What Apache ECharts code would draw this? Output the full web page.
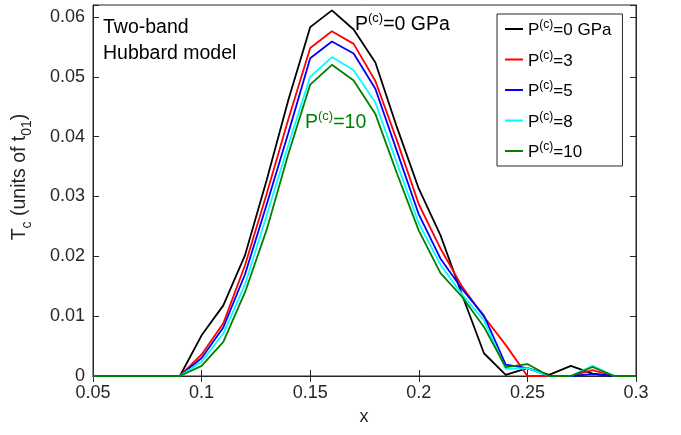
<!DOCTYPE html>
<html><head><meta charset="utf-8">
<script src="https://cdn.jsdelivr.net/npm/echarts@6/dist/echarts.min.js"></script>
<style>html,body{margin:0;padding:0;background:#fff}#c{width:681px;height:435px}</style>
</head><body><div id="c"></div>
<script>
const xValues = [0.05,0.06,0.07,0.08,0.09,0.10,0.11,0.12,0.13,0.14,0.15,0.16,0.17,0.18,0.19,0.20,0.21,0.22,0.23,0.24,0.25,0.26,0.27,0.28,0.29,0.30];
const tcP0  = [0,0,0,0,0,0.0068,0.0118,0.0202,0.0328,0.0462,0.0583,0.0611,0.0579,0.0524,0.0415,0.0313,0.0235,0.0135,0.0038,0.0002,0.0013,0.0002,0.0017,0.0004,0,0];
const tcP3  = [0,0,0,0,0,0.0036,0.0088,0.0185,0.0305,0.0430,0.0548,0.0576,0.0555,0.0493,0.0393,0.0287,0.0213,0.0149,0.0099,0.0052,0,0,0,0.0010,0,0];
const tcP5  = [0,0,0,0,0,0.0030,0.0081,0.0170,0.0287,0.0407,0.0531,0.0559,0.0539,0.0480,0.0375,0.0270,0.0196,0.0145,0.0101,0.0019,0.0013,0,0,0.0003,0,0];
const tcP8  = [0,0,0,0,0,0.0024,0.0071,0.0153,0.0269,0.0387,0.0500,0.0533,0.0511,0.0457,0.0355,0.0255,0.0186,0.0136,0.0093,0.0012,0.0013,0,0,0.0017,0,0];
const tcP10 = [0,0,0,0,0,0.0017,0.0057,0.0140,0.0245,0.0372,0.0487,0.0520,0.0494,0.0438,0.0338,0.0243,0.0172,0.0132,0.0082,0.0015,0.0020,0,0,0.0015,0,0];
const xTickValues = [0.05,0.1,0.15,0.2,0.25,0.3];
const yTickValues = [0,0.01,0.02,0.03,0.04,0.05,0.06];
const seriesNames = ['P0','P3','P5','P8','P10'];
const legendTexts = ['=0 GPa','=3','=5','=8','=10'];

const chart = echarts.init(document.getElementById('c'), null, {renderer:'canvas'});
const FONT = 'Liberation Sans, Arial, Helvetica, sans-serif';
const AX = '#262626';
const colorOf = {P0:'#000000',P3:'#ff0000',P5:'#0000ff',P8:'#00ffff',P10:'#008000'};
const dataOf = {P0:tcP0,P3:tcP3,P5:tcP5,P8:tcP8,P10:tcP10};

function isTick(v, list){ return list.some(t => Math.abs(t - v) < 1e-9); }

const supRich = {
  n: {fontSize:17, fontFamily:FONT, color:'#000', lineHeight:20, verticalAlign:'bottom'},
  s: {fontSize:12, fontFamily:FONT, color:'#000', lineHeight:13, verticalAlign:'top'}
};

function annRich(color, size){
  return {
    n: {fontSize:size, fontFamily:FONT, fill:color, lineHeight:size+3, verticalAlign:'bottom'},
    s: {fontSize:13, fontFamily:FONT, fill:color, lineHeight:14, verticalAlign:'top'}
  };
}

const baseX = {
  type:'value', min:0.05, max:0.3, interval:0.05,
  axisLine:{show:true, lineStyle:{color:AX, width:1}},
  axisTick:{show:true, inside:true, length:6, lineStyle:{color:AX}},
  splitLine:{show:false}
};
const baseY = {
  type:'value', min:0, max:0.062, interval:0.01,
  axisLine:{show:true, lineStyle:{color:AX, width:1}},
  axisTick:{show:true, inside:true, length:6, lineStyle:{color:AX}},
  splitLine:{show:false}
};

const option = {
  animation:false,
  backgroundColor:'#fff',
  grid:{left:93, right:45, top:5, bottom:59, show:true, borderColor:AX, borderWidth:1, backgroundColor:'transparent'},
  xAxis:[
    Object.assign({}, baseX, {position:'bottom',
      axisLabel:{show:true, fontSize:18, fontFamily:FONT, color:AX, margin:8,
        formatter:v => isTick(v, xTickValues) ? String(+v.toFixed(2)) : ''}}),
    Object.assign({}, baseX, {position:'top', axisLabel:{show:false}})
  ],
  yAxis:[
    Object.assign({}, baseY, {position:'left', showMaxLabel:false,
      axisLabel:{show:true, fontSize:18, fontFamily:FONT, color:AX, margin:8,
        formatter:v => isTick(v, yTickValues) ? (v === 0 ? '0' : v.toFixed(2)) : ''}}),
    Object.assign({}, baseY, {position:'right', axisLabel:{show:false}})
  ],
  legend:{
    orient:'vertical', left:497, top:14,
    padding:[5,11,5,8], itemGap:10.5, itemWidth:18, itemHeight:2, icon:'rect',
    borderColor:AX, borderWidth:1, backgroundColor:'#fff',
    data:seriesNames,
    formatter:name => '{n|P}{s|(c)}{n|' + legendTexts[seriesNames.indexOf(name)] + '}',
    textStyle:{fontSize:17, fontFamily:FONT, color:'#000', rich:supRich}
  },
  series:seriesNames.map(name => ({
    name:name, type:'line', xAxisIndex:0, yAxisIndex:0,
    data:xValues.map((x,i) => [x, dataOf[name][i]]),
    showSymbol:false, symbol:'none',
    lineStyle:{color:colorOf[name], width:1.8},
    itemStyle:{color:colorOf[name]}
  })),
  graphic:[
    {type:'text', x:103, y:28, style:{text:'Two-band', fontSize:19.5, fontFamily:FONT, fill:'#000', verticalAlign:'middle'}},
    {type:'text', x:103, y:53.5, style:{text:'Hubbard model', fontSize:19.5, fontFamily:FONT, fill:'#000', verticalAlign:'middle'}},
    {type:'text', x:355, y:23, style:{text:'{n|P}{s|(c)}{n|=0 GPa}', rich:annRich('#000',19.5), verticalAlign:'middle'}},
    {type:'text', x:305, y:121, style:{text:'{n|P}{s|(c)}{n|=10}', rich:annRich('#008000',19.5), verticalAlign:'middle'}},
    {type:'text', x:364, y:417, style:{text:'x', fontSize:18, fontFamily:FONT, fill:AX, align:'center', verticalAlign:'middle'}},
    {type:'text', x:22, y:177, rotation:Math.PI/2,
      style:{text:'{n|T}{b|c}{n| (units of t}{b|01}{n|)}', align:'center', verticalAlign:'middle',
        rich:{
          n:{fontSize:19.5, fontFamily:FONT, fill:AX, lineHeight:25, verticalAlign:'top'},
          b:{fontSize:14, fontFamily:FONT, fill:AX, lineHeight:10, verticalAlign:'bottom'}
        }}}
  ]
};
chart.setOption(option);
</script>
</body></html>
